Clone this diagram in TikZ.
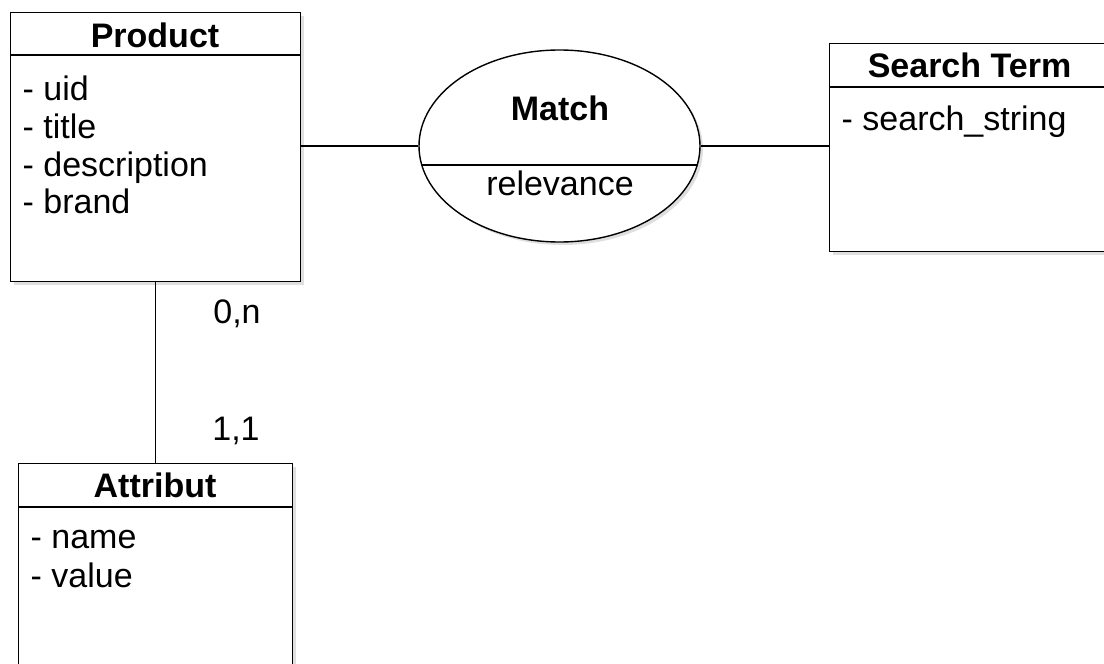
\documentclass[tikz,border=0pt]{standalone}
\usepackage{fontspec}
\setmainfont{Liberation Sans}
\usepackage{tikz}
\usetikzlibrary{positioning,shapes.geometric,shadows}
\newcommand{\erfont}{\fontsize{34}{40}\selectfont}

\begin{document}
\begin{tikzpicture}[
  x=1pt, y=-1pt,
  line width=1.4pt,
  entity/.style={rectangle, draw, fill=white, anchor=north west, inner sep=0pt,
    drop shadow={shadow xshift=3pt, shadow yshift=-3pt, opacity=0.25}},
  relship/.style={ellipse, draw, fill=white, inner sep=0pt, minimum width=281pt, minimum height=192pt,
    drop shadow={shadow xshift=3pt, shadow yshift=-3pt, opacity=0.25}},
  title/.style={font=\erfont\bfseries, anchor=base, inner sep=0pt},
  attr/.style={font=\erfont, anchor=base west, inner sep=0pt},
  card/.style={font=\erfont, anchor=base, inner sep=0pt}
]
\useasboundingbox (0,0) rectangle (1104,664);
\clip (0,0) rectangle (1104,664);

\node[entity, minimum width=290pt, minimum height=269pt] (product) at (10,12) {};
\node[entity, minimum width=274pt, minimum height=240pt] (attribut) at (18,463) {};
\node[entity, minimum width=281pt, minimum height=208pt] (search) at (829,43) {};
\node[relship] (match) at (559.5,146) {};

% header lines
\draw ([yshift=-43pt]product.north west) -- ([yshift=-43pt]product.north east);
\draw ([yshift=-44pt]attribut.north west) -- ([yshift=-44pt]attribut.north east);
\draw ([yshift=-44pt]search.north west) -- ([yshift=-44pt]search.north east);
\draw ([shift={(-137.7,19)}]match.center) -- ([shift={(137.7,19)}]match.center);

\node[title] (productT) at (155,47) {Product};
\node[attr] (uid) at (22,100) {- uid};
\node[attr] (ttl) at (22,138) {- title};
\node[attr] (desc) at (22,176) {- description};
\node[attr] (brand) at (22,213) {- brand};

\node[title] (attributT) at (155,497) {Attribut};
\node[attr] (name) at (30,548) {- name};
\node[attr] (value) at (30,587) {- value};

\node[title] (searchT) at (969.5,77) {Search Term};
\node[attr] (sstring) at (841,130) {- search\_string};

\node[title] (matchT) at (560,120) {Match};
\node[card] (relevance) at (560,195) {relevance};

\node[card] (cardP) at (237,323) {0,n};
\node[card] (cardA) at (236,440) {1,1};

\draw (match.west -| product.east) -- (match.west);
\draw (match.east) -- (match.east -| search.west);
\draw (product) -- (attribut);
\end{tikzpicture}
\end{document}
